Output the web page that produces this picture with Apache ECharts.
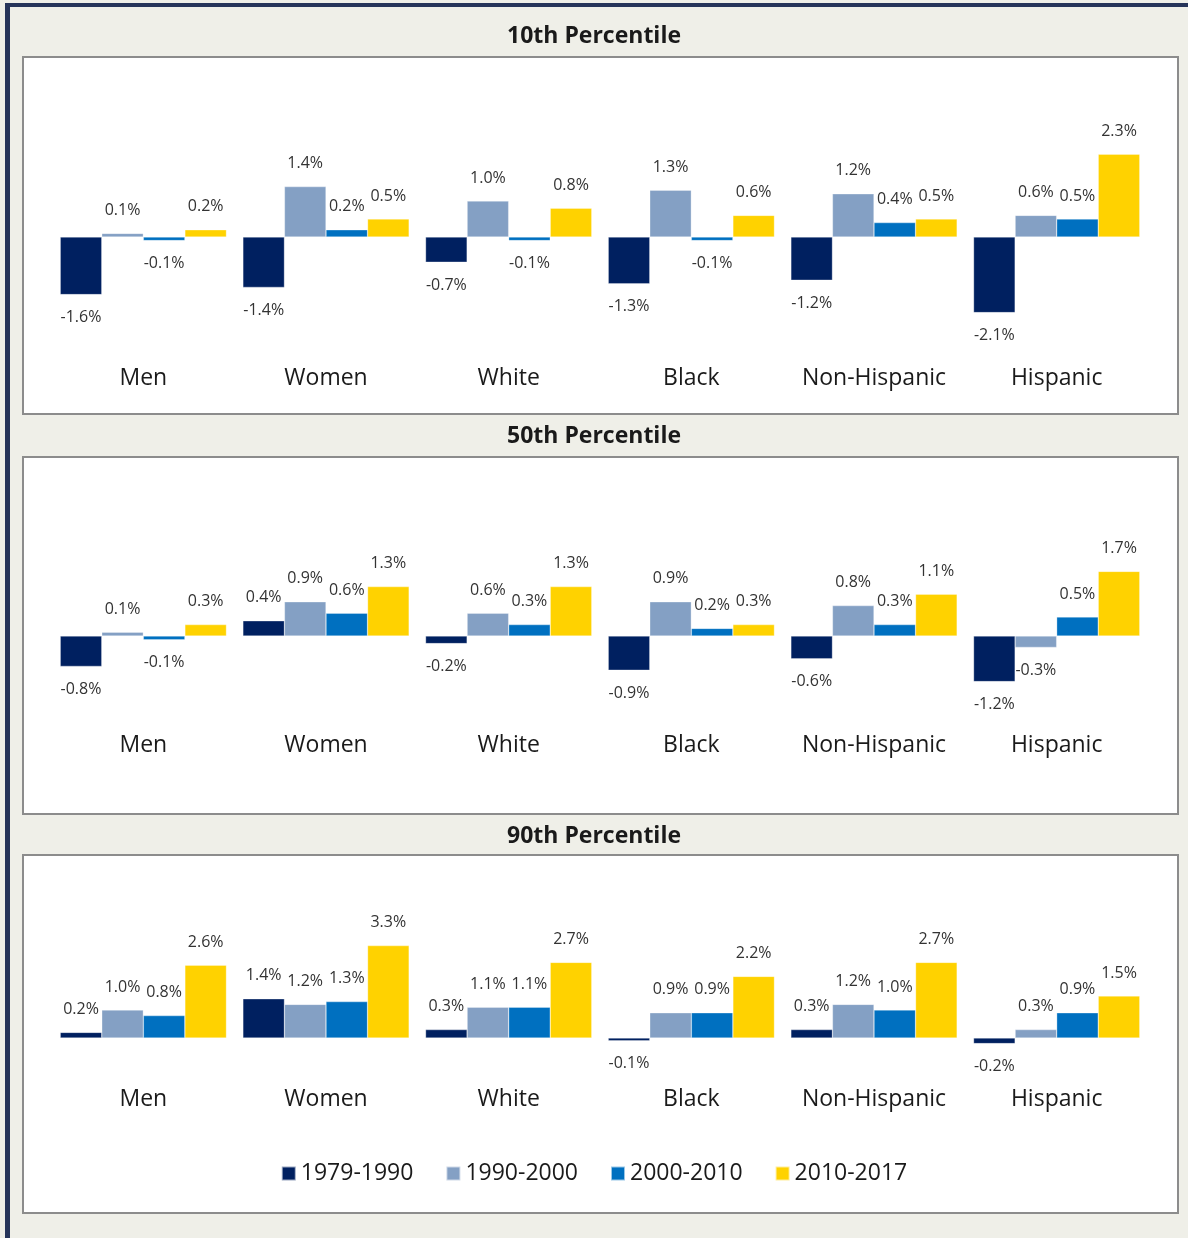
<!DOCTYPE html>
<html>
<head>
<meta charset="utf-8">
<script src="https://cdn.jsdelivr.net/npm/echarts@6/dist/echarts.min.js"></script>
<style>
  html, body { margin: 0; padding: 0; background: #efefe8; }
  #chart { width: 1188px; height: 1238px; }
</style>
</head>
<body>
<div id="chart"></div>
<script>
const categories = ['Men', 'Women', 'White', 'Black', 'Non-Hispanic', 'Hispanic'];
const periods = ['1979-1990', '1990-2000', '2000-2010', '2010-2017'];
const colors = ['#002060', '#84a0c4', '#0070c0', '#ffd200'];
const panelTitles = ['10th Percentile', '50th Percentile', '90th Percentile'];

// values per panel, one array per period
const p10 = [
  [-1.6, -1.4, -0.7, -1.3, -1.2, -2.1],
  [0.1, 1.4, 1.0, 1.3, 1.2, 0.6],
  [-0.1, 0.2, -0.1, -0.1, 0.4, 0.5],
  [0.2, 0.5, 0.8, 0.6, 0.5, 2.3]
];
const p50 = [
  [-0.8, 0.4, -0.2, -0.9, -0.6, -1.2],
  [0.1, 0.9, 0.6, 0.9, 0.8, -0.3],
  [-0.1, 0.6, 0.3, 0.2, 0.3, 0.5],
  [0.3, 1.3, 1.3, 0.3, 1.1, 1.7]
];
const p90 = [
  [0.2, 1.4, 0.3, -0.1, 0.3, -0.2],
  [1.0, 1.2, 1.1, 0.9, 1.2, 0.3],
  [0.8, 1.3, 1.1, 0.9, 1.0, 0.9],
  [2.6, 3.3, 2.7, 2.2, 2.7, 1.5]
];
const panels = [p10, p50, p90];

const font = '"Open Sans", "Noto Sans", sans-serif';

// layout of each panel (grid + value range)
const layouts = [
  { top: 129, height: 216, min: -3, max: 3, titleTop: 20, box: [23, 57, 1155, 357] },
  { top: 560, height: 152, min: -2, max: 2, titleTop: 420, box: [23, 457, 1155, 357] },
  { top: 926, height: 140, min: -1, max: 4, titleTop: 820, box: [23, 855, 1155, 358] }
];

const chart = echarts.init(document.getElementById('chart'), null, { renderer: 'canvas' });

const grids = [], xAxes = [], yAxes = [], series = [], titles = [], boxes = [];

layouts.forEach((l, i) => {
  boxes.push({
    type: 'rect',
    shape: { x: l.box[0], y: l.box[1], width: l.box[2], height: l.box[3] },
    style: { fill: '#ffffff', stroke: '#8c8c8c', lineWidth: 2 },
    z: -10
  });
  titles.push({
    text: panelTitles[i],
    left: 'center',
    top: l.titleTop,
    textStyle: { fontFamily: font, fontSize: 23, fontWeight: 'bold', color: '#1a1a1a' }
  });
  grids.push({ left: 52, right: 40, top: l.top, height: l.height });
  xAxes.push({
    type: 'category',
    gridIndex: i,
    data: categories,
    axisLine: { show: false },
    axisTick: { show: false },
    axisLabel: { fontFamily: font, fontSize: 23, color: '#1a1a1a', margin: 22, interval: 0 },
    splitLine: { show: false }
  });
  yAxes.push({
    type: 'value',
    gridIndex: i,
    min: l.min,
    max: l.max,
    show: false
  });
  panels[i].forEach((vals, s) => {
    series.push({
      name: periods[s],
      type: 'bar',
      xAxisIndex: i,
      yAxisIndex: i,
      barGap: '0%',
      barCategoryGap: '9%',
      itemStyle: { color: colors[s], borderColor: 'rgba(255,255,255,0.6)', borderWidth: 0.5 },
      data: vals.map(v => ({ value: v, label: { position: v < 0 ? 'bottom' : 'top' } })),
      label: {
        show: true,
        distance: 15,
        fontFamily: font,
        fontSize: 16,
        color: '#333333',
        formatter: p => p.value.toFixed(1) + '%'
      },
      animation: false
    });
  });
});

const option = {
  backgroundColor: '#efefe8',
  animation: false,
  title: titles,
  legend: {
    data: periods,
    bottom: 48,
    left: 'center',
    icon: 'rect',
    itemWidth: 14,
    itemHeight: 14,
    itemGap: 32,
    textStyle: { fontFamily: font, fontSize: 23, color: '#1a1a1a' },
    selectedMode: false
  },
  grid: grids,
  xAxis: xAxes,
  yAxis: yAxes,
  series: series,
  graphic: [
    { type: 'rect', shape: { x: 5, y: 3, width: 5, height: 1235 }, style: { fill: '#263459' }, z: -20 },
    { type: 'rect', shape: { x: 5, y: 3, width: 1183, height: 4 }, style: { fill: '#263459' }, z: -20 }
  ].concat(boxes)
};

chart.setOption(option);
</script>
</body>
</html>
